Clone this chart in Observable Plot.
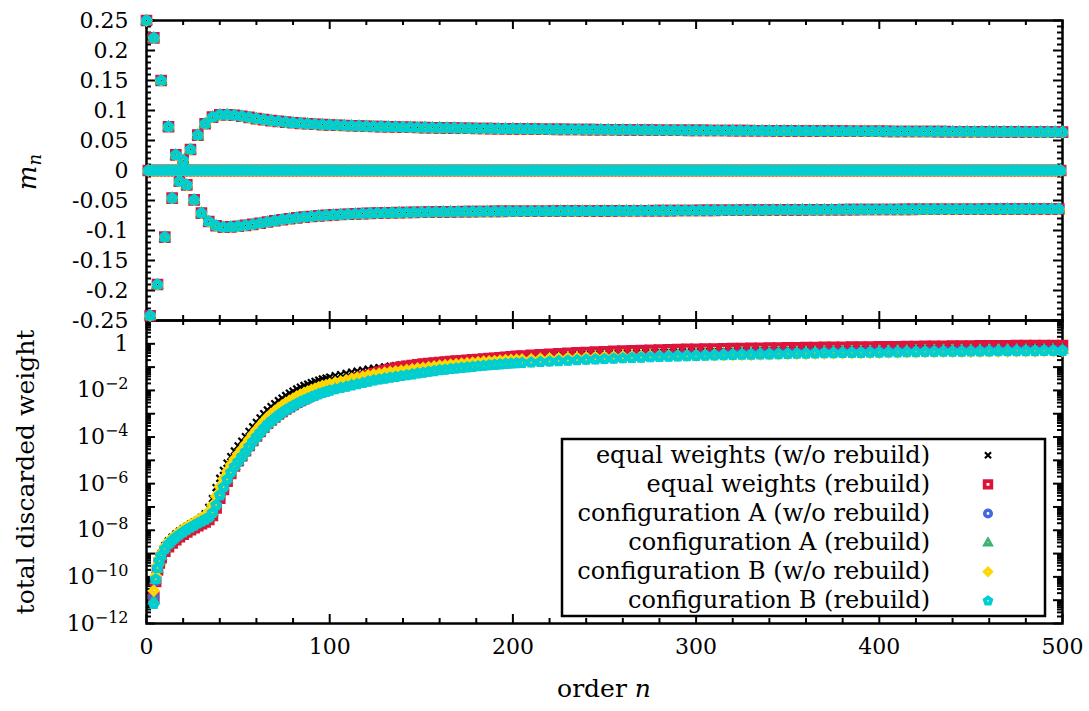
<!DOCTYPE html>
<html><head><meta charset="utf-8">
<script src="https://cdn.jsdelivr.net/npm/d3@7"></script>
<script src="https://cdn.jsdelivr.net/npm/@observablehq/plot@0.6"></script>
<style>
html,body{margin:0;padding:0;background:#fff;}
#chart{position:relative;width:1089px;height:711px;background:#fff;}
#chart svg{position:absolute;left:0;overflow:visible;}
[aria-label="dot"] path{fill-rule:evenodd;}
</style></head>
<body><div id="chart"></div>
<script>
// ---------------- DATA ----------------
// Top panel: m_n. Orders n = 0,4,8,...,500 (upper branch), n = 2,6,...,498 (lower branch), odd n are zero.
const orderUpper = d3.range(0, 501, 4);
const mUpper = [
 0.250, 0.221, 0.150, 0.073, 0.026, 0.017, 0.035, 0.059, 0.078, 0.089,
 0.093, 0.093, 0.092, 0.0905, 0.0885, 0.0865, 0.0848, 0.0832, 0.0818, 0.0806,
 0.0795, 0.0786, 0.0778, 0.0771, 0.0765, 0.0759, 0.0754, 0.0749, 0.0745, 0.0741,
 0.0737, 0.0734, 0.0731, 0.0728, 0.0725, 0.0722, 0.0720, 0.0717, 0.0715, 0.0713,
 0.0711, 0.0709, 0.0707, 0.0705, 0.0703, 0.0701, 0.0700, 0.0698, 0.0697, 0.0695,
 0.0694, 0.0692, 0.0691, 0.0690, 0.0688, 0.0687, 0.0686, 0.0685, 0.0684, 0.0683,
 0.0682, 0.0681, 0.0680, 0.0679, 0.0678, 0.0677, 0.0676, 0.0675, 0.0674, 0.0673,
 0.0672, 0.0671, 0.0671, 0.0670, 0.0669, 0.0668, 0.0668, 0.0667, 0.0667, 0.0666,
 0.0665, 0.0665, 0.0664, 0.0663, 0.0663, 0.0662, 0.0661, 0.0661, 0.0660, 0.0659,
 0.0659, 0.0658, 0.0657, 0.0657, 0.0656, 0.0656, 0.0655, 0.0654, 0.0654, 0.0653,
 0.0653, 0.0652, 0.0651, 0.0651, 0.0650, 0.0650, 0.0649, 0.0649, 0.0648, 0.0648,
 0.0647, 0.0647, 0.0646, 0.0646, 0.0645, 0.0645, 0.0644, 0.0644, 0.0643, 0.0643,
 0.0642, 0.0642, 0.0641, 0.0641, 0.0640, 0.0640
];
const orderLower = d3.range(2, 499, 4);
const mLower = [
 -0.242, -0.190, -0.111, -0.046, -0.018, -0.024, -0.049, -0.071, -0.085, -0.092,
 -0.0945, -0.094, -0.093, -0.0915, -0.0898, -0.0878, -0.0858, -0.0838, -0.0820, -0.0804,
 -0.0790, -0.0777, -0.0766, -0.0756, -0.0748, -0.0740, -0.0734, -0.0728, -0.0723, -0.0718,
 -0.0714, -0.0711, -0.0708, -0.0705, -0.0702, -0.0700, -0.0698, -0.0696, -0.0694, -0.0692,
 -0.0690, -0.0689, -0.0687, -0.0686, -0.0685, -0.0684, -0.0683, -0.0682, -0.0681, -0.0680,
 -0.0680, -0.0679, -0.0679, -0.0678, -0.0678, -0.0677, -0.0677, -0.0676, -0.0676, -0.0675,
 -0.0675, -0.0674, -0.0673, -0.0673, -0.0672, -0.0672, -0.0671, -0.0670, -0.0670, -0.0669,
 -0.0668, -0.0668, -0.0667, -0.0666, -0.0666, -0.0665, -0.0664, -0.0664, -0.0663, -0.0662,
 -0.0662, -0.0661, -0.0660, -0.0660, -0.0659, -0.0658, -0.0658, -0.0657, -0.0656, -0.0656,
 -0.0655, -0.0655, -0.0654, -0.0653, -0.0653, -0.0652, -0.0652, -0.0651, -0.0651, -0.0650,
 -0.0650, -0.0649, -0.0649, -0.0648, -0.0648, -0.0647, -0.0647, -0.0647, -0.0646, -0.0646,
 -0.0646, -0.0645, -0.0645, -0.0645, -0.0644, -0.0644, -0.0644, -0.0643, -0.0643, -0.0643,
 -0.0642, -0.0642, -0.0642, -0.0641, -0.0641
];
const orderOdd = d3.range(1, 500, 2);
const mOdd = orderOdd.map(() => 0);

// Bottom panel: log10(total discarded weight) per series at these orders
const orderW = [4,5,6,7,8, 10,12,14,16,18,20,22,24,26,28, 30,32,34,36,38,40,42,44,46,48,
  50,52,54,56,58,60, ...d3.range(62, 101, 2), ...d3.range(103, 203, 3), ...d3.range(205, 501, 5)];

const logW_equalNoRebuild = [
 -11.0, -10.0, -9.55, -9.22, -8.98,
 -8.66, -8.46, -8.3, -8.16, -8.04, -7.93, -7.83, -7.74, -7.65, -7.56,
 -7.45, -7.3, -7.02, -6.64, -6.17, -5.77, -5.43, -5.12, -4.84, -4.6,
 -4.38, -4.18, -3.98, -3.76, -3.56, -3.37,
 -3.18, -3.0, -2.84, -2.70, -2.57, -2.44, -2.33, -2.22, -2.12, -2.03,
 -1.94, -1.86, -1.79, -1.73, -1.67, -1.61, -1.56, -1.51, -1.47, -1.43,
 -1.37, -1.32, -1.27, -1.22, -1.17, -1.13, -1.09, -1.05, -1.02, -0.99,
 -0.96, -0.935, -0.91, -0.885, -0.86, -0.835, -0.81, -0.79, -0.765, -0.745,
 -0.725, -0.705, -0.685, -0.665, -0.65, -0.635, -0.62, -0.605, -0.59, -0.575,
 -0.56, -0.545, -0.535, -0.52,
 -0.51, -0.50, -0.48, -0.47, -0.455, -0.44, -0.43, -0.415, -0.405, -0.395,
 -0.385, -0.375, -0.365, -0.355, -0.345, -0.335, -0.33, -0.32, -0.315, -0.31,
 -0.30, -0.295, -0.29, -0.28, -0.275, -0.27, -0.26, -0.255, -0.25, -0.245,
 -0.24, -0.235, -0.23, -0.225, -0.22, -0.215, -0.21, -0.205, -0.20, -0.195,
 -0.19, -0.19, -0.185, -0.18, -0.175, -0.17, -0.17, -0.165, -0.16, -0.16,
 -0.155, -0.15, -0.15, -0.145, -0.14, -0.14, -0.135, -0.13, -0.13, -0.125
];
const logW_equalRebuild = [
 -10.87, -10.2, -9.7, -9.4, -9.18,
 -8.9, -8.7, -8.54, -8.4, -8.28, -8.17, -8.07, -7.98, -7.89, -7.8,
 -7.72, -7.64, -7.54, -7.36, -7.04, -6.62, -6.25, -5.9, -5.56, -5.24,
 -5.01, -4.8, -4.59, -4.36, -4.15, -3.95,
 -3.76, -3.58, -3.41, -3.27, -3.14, -3.01, -2.90, -2.79, -2.70, -2.60,
 -2.51, -2.43, -2.35, -2.27, -2.20, -2.13, -2.06, -1.99, -1.93, -1.87,
 -1.80, -1.73, -1.66, -1.58, -1.50, -1.43, -1.36, -1.28, -1.21, -1.15,
 -1.09, -1.045, -1.0, -0.96, -0.93, -0.90, -0.87, -0.85, -0.825, -0.80,
 -0.78, -0.765, -0.745, -0.725, -0.71, -0.69, -0.675, -0.655, -0.635, -0.62,
 -0.60, -0.58, -0.56, -0.535,
 -0.52, -0.495, -0.47, -0.445, -0.425, -0.405, -0.385, -0.37, -0.355, -0.34,
 -0.325, -0.31, -0.30, -0.29, -0.28, -0.27, -0.26, -0.25, -0.24, -0.235,
 -0.225, -0.22, -0.21, -0.205, -0.20, -0.195, -0.19, -0.185, -0.18, -0.175,
 -0.17, -0.165, -0.16, -0.155, -0.15, -0.145, -0.14, -0.14, -0.135, -0.13,
 -0.125, -0.125, -0.12, -0.115, -0.11, -0.11, -0.105, -0.10, -0.10, -0.095,
 -0.09, -0.09, -0.085, -0.085, -0.08, -0.08, -0.075, -0.075, -0.07, -0.07
];
const logW_confANoRebuild = [
 -10.87, -10.15, -9.66, -9.33, -9.1,
 -8.77, -8.57, -8.41, -8.27, -8.15, -8.04, -7.94, -7.85, -7.76, -7.67,
 -7.59, -7.51, -7.41, -7.22, -6.89, -6.47, -6.12, -5.79, -5.49, -5.24,
 -5.03, -4.82, -4.61, -4.38, -4.17, -3.97,
 -3.78, -3.60, -3.43, -3.29, -3.16, -3.03, -2.92, -2.81, -2.72, -2.63,
 -2.54, -2.46, -2.39, -2.32, -2.25, -2.19, -2.13, -2.08, -2.03, -1.98,
 -1.92, -1.86, -1.81, -1.75, -1.70, -1.65, -1.59, -1.54, -1.50, -1.46,
 -1.42, -1.39, -1.35, -1.32, -1.28, -1.24, -1.21, -1.17, -1.14, -1.10,
 -1.08, -1.05, -1.03, -1.00, -0.98, -0.96, -0.93, -0.91, -0.89, -0.87,
 -0.85, -0.83, -0.815, -0.805,
 -0.79, -0.77, -0.75, -0.73, -0.71, -0.69, -0.67, -0.65, -0.635, -0.62,
 -0.605, -0.59, -0.575, -0.56, -0.545, -0.53, -0.52, -0.51, -0.50, -0.49,
 -0.48, -0.47, -0.46, -0.45, -0.44, -0.435, -0.425, -0.42, -0.41, -0.405,
 -0.395, -0.39, -0.38, -0.375, -0.37, -0.365, -0.36, -0.355, -0.35, -0.345,
 -0.34, -0.335, -0.33, -0.325, -0.32, -0.315, -0.31, -0.31, -0.305, -0.30,
 -0.30, -0.295, -0.29, -0.29, -0.285, -0.28, -0.28, -0.275, -0.27, -0.27
];
const logW_confARebuild = [
 -11.0, -10.12, -9.64, -9.31, -9.09,
 -8.75, -8.55, -8.39, -8.25, -8.13, -8.02, -7.92, -7.83, -7.74, -7.65,
 -7.57, -7.49, -7.39, -7.2, -6.87, -6.45, -6.1, -5.77, -5.47, -5.22,
 -5.01, -4.8, -4.59, -4.36, -4.15, -3.95,
 -3.76, -3.58, -3.41, -3.27, -3.14, -3.01, -2.90, -2.79, -2.70, -2.61,
 -2.52, -2.44, -2.37, -2.30, -2.23, -2.17, -2.11, -2.06, -2.01, -1.96,
 -1.90, -1.84, -1.79, -1.73, -1.68, -1.63, -1.57, -1.52, -1.48, -1.44,
 -1.40, -1.37, -1.33, -1.30, -1.26, -1.22, -1.19, -1.15, -1.12, -1.08,
 -1.06, -1.03, -1.01, -0.98, -0.96, -0.94, -0.91, -0.89, -0.87, -0.85,
 -0.83, -0.81, -0.795, -0.785,
 -0.76, -0.74, -0.72, -0.70, -0.68, -0.66, -0.64, -0.62, -0.605, -0.59,
 -0.575, -0.56, -0.545, -0.53, -0.515, -0.50, -0.49, -0.48, -0.47, -0.46,
 -0.45, -0.44, -0.43, -0.42, -0.41, -0.405, -0.395, -0.39, -0.38, -0.375,
 -0.365, -0.36, -0.35, -0.345, -0.34, -0.335, -0.33, -0.325, -0.32, -0.315,
 -0.31, -0.305, -0.30, -0.295, -0.29, -0.285, -0.28, -0.28, -0.275, -0.27,
 -0.27, -0.265, -0.26, -0.26, -0.255, -0.25, -0.25, -0.245, -0.24, -0.24
];
const logW_confBNoRebuild = [
 -10.59, -9.95, -9.5, -9.2, -8.98,
 -8.69, -8.49, -8.33, -8.19, -8.06, -7.95, -7.85, -7.75, -7.66, -7.56,
 -7.47, -7.37, -7.2, -6.93, -6.54, -6.13, -5.79, -5.47, -5.18, -4.94,
 -4.72, -4.52, -4.31, -4.09, -3.88, -3.69,
 -3.50, -3.32, -3.15, -3.01, -2.88, -2.75, -2.64, -2.53, -2.44, -2.35,
 -2.26, -2.18, -2.11, -2.04, -1.98, -1.92, -1.86, -1.81, -1.77, -1.72,
 -1.66, -1.61, -1.56, -1.50, -1.45, -1.41, -1.36, -1.31, -1.28, -1.24,
 -1.21, -1.18, -1.15, -1.12, -1.09, -1.05, -1.03, -1.0, -0.97, -0.94,
 -0.92, -0.89, -0.87, -0.85, -0.83, -0.81, -0.79, -0.77, -0.76, -0.74,
 -0.72, -0.70, -0.69, -0.68,
 -0.67, -0.655, -0.64, -0.625, -0.615, -0.60, -0.59, -0.58, -0.57, -0.56,
 -0.555, -0.545, -0.54, -0.535, -0.53, -0.525, -0.52, -0.515, -0.51, -0.505,
 -0.50, -0.49, -0.485, -0.48, -0.475, -0.47, -0.46, -0.455, -0.45, -0.44,
 -0.435, -0.43, -0.42, -0.415, -0.41, -0.405, -0.40, -0.395, -0.39, -0.385,
 -0.38, -0.375, -0.37, -0.365, -0.36, -0.355, -0.35, -0.35, -0.345, -0.34,
 -0.34, -0.335, -0.33, -0.33, -0.325, -0.32, -0.32, -0.315, -0.31, -0.31
];
const logW_confBRebuild = [
 -11.16, -10.1, -9.62, -9.3, -9.08,
 -8.8, -8.6, -8.44, -8.3, -8.18, -8.07, -7.97, -7.88, -7.79, -7.7,
 -7.62, -7.54, -7.44, -7.25, -6.92, -6.5, -6.15, -5.82, -5.52, -5.27,
 -5.06, -4.85, -4.64, -4.41, -4.2, -4.0,
 -3.81, -3.63, -3.46, -3.32, -3.19, -3.06, -2.95, -2.84, -2.75, -2.66,
 -2.57, -2.49, -2.42, -2.35, -2.28, -2.22, -2.16, -2.11, -2.06, -2.01,
 -1.95, -1.89, -1.84, -1.78, -1.73, -1.68, -1.62, -1.57, -1.53, -1.49,
 -1.45, -1.42, -1.38, -1.35, -1.31, -1.27, -1.24, -1.20, -1.17, -1.13,
 -1.11, -1.08, -1.06, -1.03, -1.01, -0.99, -0.96, -0.94, -0.92, -0.90,
 -0.88, -0.86, -0.845, -0.835,
 -0.82, -0.80, -0.78, -0.76, -0.74, -0.72, -0.70, -0.68, -0.665, -0.65,
 -0.635, -0.62, -0.605, -0.59, -0.575, -0.56, -0.55, -0.54, -0.53, -0.52,
 -0.51, -0.50, -0.49, -0.48, -0.47, -0.465, -0.455, -0.45, -0.44, -0.435,
 -0.425, -0.42, -0.41, -0.405, -0.40, -0.395, -0.39, -0.385, -0.38, -0.375,
 -0.37, -0.365, -0.36, -0.355, -0.35, -0.345, -0.34, -0.34, -0.335, -0.33,
 -0.33, -0.325, -0.32, -0.32, -0.315, -0.31, -0.31, -0.305, -0.30, -0.30
];

const seriesNames = [
  "equal weights (w/o rebuild)", "equal weights (rebuild)",
  "configuration A (w/o rebuild)", "configuration A (rebuild)",
  "configuration B (w/o rebuild)", "configuration B (rebuild)"
];
const seriesLogW = [logW_equalNoRebuild, logW_equalRebuild, logW_confANoRebuild,
  logW_confARebuild, logW_confBNoRebuild, logW_confBRebuild];

// ticks
const xMajor = [0, 100, 200, 300, 400, 500];
const mTicks = [0.25, 0.2, 0.15, 0.1, 0.05, 0, -0.05, -0.1, -0.15, -0.2, -0.25];
const wLabelTicks = [1, 1e-2, 1e-4, 1e-6, 1e-8, 1e-10, 1e-12];

// ---------------- STYLE ----------------
const seriesColors = ["#000000", "#dc143c", "#4169e1", "#3cb371", "#ffd700", "#00ced1"];
function polygon(c, pts, s) {
  c.moveTo(pts[0][0] * s, pts[0][1] * s);
  for (let i = 1; i < pts.length; i++) c.lineTo(pts[i][0] * s, pts[i][1] * s);
  c.closePath();
}
const sqPts = [[-5.8, -5.8], [5.8, -5.8], [5.8, 5.8], [-5.8, 5.8]];
const triPts = [[0, -7], [6.6, 4.4], [-6.6, 4.4]];
const diaPts = [[0, -6.4], [6.4, 0], [0, 6.4], [-6.4, 0]];
const pentPts = [0, 1, 2, 3, 4].map(k => { const a = -Math.PI / 2 + k * 2 * Math.PI / 5; return [6.3 * Math.cos(a), 6.3 * Math.sin(a)]; });
const symTimes = {draw(c) { c.moveTo(-3.4, -3.4); c.lineTo(3.4, 3.4); c.moveTo(3.4, -3.4); c.lineTo(-3.4, 3.4); }};
const symSquare = {draw(c) { polygon(c, sqPts, 1); polygon(c, sqPts, 0.28); }};
const symCircle = {draw(c) { c.moveTo(5.6, 0); c.arc(0, 0, 5.6, 0, 2 * Math.PI); c.closePath(); c.moveTo(1.6, 0); c.arc(0, 0, 1.6, 0, 2 * Math.PI); c.closePath(); }};
const symTriangle = {draw(c) { polygon(c, triPts, 1); polygon(c, triPts, 0.12); }};
const symDiamond = {draw(c) { polygon(c, diaPts, 1); polygon(c, diaPts, 0.14); }};
const symPentagon = {draw(c) { polygon(c, pentPts, 1); polygon(c, pentPts, 0.16); }};
const seriesSymbols = [symTimes, symSquare, symCircle, symTriangle, symDiamond, symPentagon];

function dotMark(i, data, x, y) {
  if (i === 0) return Plot.dot(data, {x, y, symbol: seriesSymbols[i], r: 4, fill: "none", stroke: seriesColors[i], strokeWidth: 2.2});
  return Plot.dot(data, {x, y, symbol: seriesSymbols[i], r: 5, fill: seriesColors[i], stroke: "none"});
}

const FONT = "'DejaVu Serif', serif";
const W = 1089, ML = 146, MR = 27;
const innerW = W - ML - MR;
const topH = 320, topMT = 20, topInner = topH - topMT;
const botH = 391, botMB = 88, botInner = botH - botMB;
const bigTick = 9, smallTick = 5;

const xMinor = d3.range(0, 501, 20).filter(v => v % 100 !== 0);
const mMajorTicks = mTicks;
const mMinorTicks = d3.range(-24, 25).filter(k => k % 5 !== 0).map(k => k / 100);
const wDecades = d3.range(-12, 2).map(e => 10 ** e);
const wMinorTicks = d3.range(-12, 1).flatMap(e => [2, 3, 4, 5, 6, 7, 8, 9].map(k => k * 10 ** e));

function frameTicks(innerH, yMaj, yMin) {
  const tk = {stroke: "black", strokeWidth: 2};
  return [
    Plot.frame({stroke: "black", strokeWidth: 2.5}),
    Plot.tickX(xMajor, {x: d => d, insetTop: innerH - bigTick, ...tk}),
    Plot.tickX(xMajor, {x: d => d, insetBottom: innerH - bigTick, ...tk}),
    Plot.tickX(xMinor, {x: d => d, insetTop: innerH - smallTick, ...tk}),
    Plot.tickX(xMinor, {x: d => d, insetBottom: innerH - smallTick, ...tk}),
    Plot.tickY(yMaj, {y: d => d, insetRight: innerW - bigTick, ...tk}),
    Plot.tickY(yMaj, {y: d => d, insetLeft: innerW - bigTick, ...tk}),
    Plot.tickY(yMin, {y: d => d, insetRight: innerW - smallTick, ...tk}),
    Plot.tickY(yMin, {y: d => d, insetLeft: innerW - smallTick, ...tk})
  ];
}

// ---------------- TOP PANEL ----------------
const mTable = [
  ...orderUpper.map((n, i) => ({n, m: mUpper[i]})),
  ...orderLower.map((n, i) => ({n, m: mLower[i]})),
  ...orderOdd.map((n, i) => ({n, m: mOdd[i]}))
].sort((a, b) => a.n - b.n);

const topChart = Plot.plot({
  width: W, height: topH, marginLeft: ML, marginRight: MR, marginTop: topMT, marginBottom: 0,
  style: {fontFamily: FONT, fontSize: "22px", background: "transparent", color: "black", overflow: "visible"},
  x: {domain: [0, 500], axis: null},
  y: {domain: [-0.25, 0.25], ticks: mTicks, tickFormat: d => String(Math.round(d * 100) / 100), tickSize: 0, tickPadding: 18, label: null},
  marks: [
    ...frameTicks(topInner, mMajorTicks, mMinorTicks),
    ...seriesNames.map((_, i) => dotMark(i, mTable, "n", "m"))
  ]
});

// ---------------- BOTTOM PANEL ----------------
const wTables = seriesLogW.map(arr => orderW.map((n, i) => ({n, w: 10 ** arr[i]})));
const botChart = Plot.plot({
  width: W, height: botH, marginLeft: ML, marginRight: MR, marginTop: 0, marginBottom: botMB,
  style: {fontFamily: FONT, fontSize: "22px", background: "white", color: "black", overflow: "visible"},
  x: {domain: [0, 500], ticks: xMajor, tickFormat: d => String(d), tickSize: 0, tickPadding: 15, label: null},
  y: {type: "log", domain: [1e-12, 10], ticks: wLabelTicks,
      tickFormat: d => d === 1 ? "1" : "10^" + Math.round(-Math.log10(d)), tickSize: 0, tickPadding: 18, label: null},
  marks: [
    ...frameTicks(botInner, wDecades, wMinorTicks),
    ...wTables.map((t, i) => dotMark(i, t, "n", "w"))
  ]
});

const root = document.getElementById("chart");
botChart.style.top = "320px";
botChart.style.zIndex = 1;
topChart.style.top = "0px";
topChart.style.zIndex = 2;
root.appendChild(botChart);
root.appendChild(topChart);

// superscripts on log tick labels
d3.select(botChart).selectAll('g[aria-label="y-axis tick label"] text').each(function () {
  const t = this.textContent;
  if (t.startsWith("10^")) {
    const e = t.slice(3);
    const s = d3.select(this);
    s.text(null);
    s.append("tspan").text("10");
    s.append("tspan").attr("dy", "-0.5em").attr("font-size", "16px").text("\u2212" + e);
  }
});

// axis titles
const topSel = d3.select(topChart);
const mLab = topSel.append("text").attr("transform", "translate(36,172) rotate(-90)")
  .attr("text-anchor", "middle").attr("font-family", FONT).attr("font-size", 26).attr("fill", "black");
mLab.append("tspan").attr("font-style", "italic").text("m");
mLab.append("tspan").attr("font-style", "italic").attr("font-size", 18).attr("dy", 5).text("n");

const botSel = d3.select(botChart);
botSel.append("text").attr("transform", "translate(34,152) rotate(-90)")
  .attr("text-anchor", "middle").attr("font-family", FONT).attr("font-size", 25).attr("fill", "black")
  .text("total discarded weight");
const oLab = botSel.append("text").attr("x", 604).attr("y", 377)
  .attr("text-anchor", "middle").attr("font-family", FONT).attr("font-size", 25).attr("fill", "black");
oLab.append("tspan").text("order ");
oLab.append("tspan").attr("font-style", "italic").text("n");

// legend
const lg = botSel.append("g");
lg.append("rect").attr("x", 562).attr("y", 119).attr("width", 483).attr("height", 177)
  .attr("fill", "white").attr("stroke", "black").attr("stroke-width", 2.5);
seriesNames.forEach((name, i) => {
  const y = 135.3 + i * 29.1;
  lg.append("text").attr("x", 930).attr("y", y).attr("dy", "0.32em").attr("text-anchor", "end")
    .attr("font-family", FONT).attr("font-size", 24).attr("fill", "black").text(name);
  const p = d3.path();
  seriesSymbols[i].draw(p, 0);
  const path = lg.append("path").attr("d", p.toString()).attr("transform", `translate(988,${y}) scale(0.9)`)
    .attr("fill-rule", "evenodd");
  if (i === 0) path.attr("fill", "none").attr("stroke", seriesColors[i]).attr("stroke-width", 2.4);
  else path.attr("fill", seriesColors[i]);
});
</script></body></html>
